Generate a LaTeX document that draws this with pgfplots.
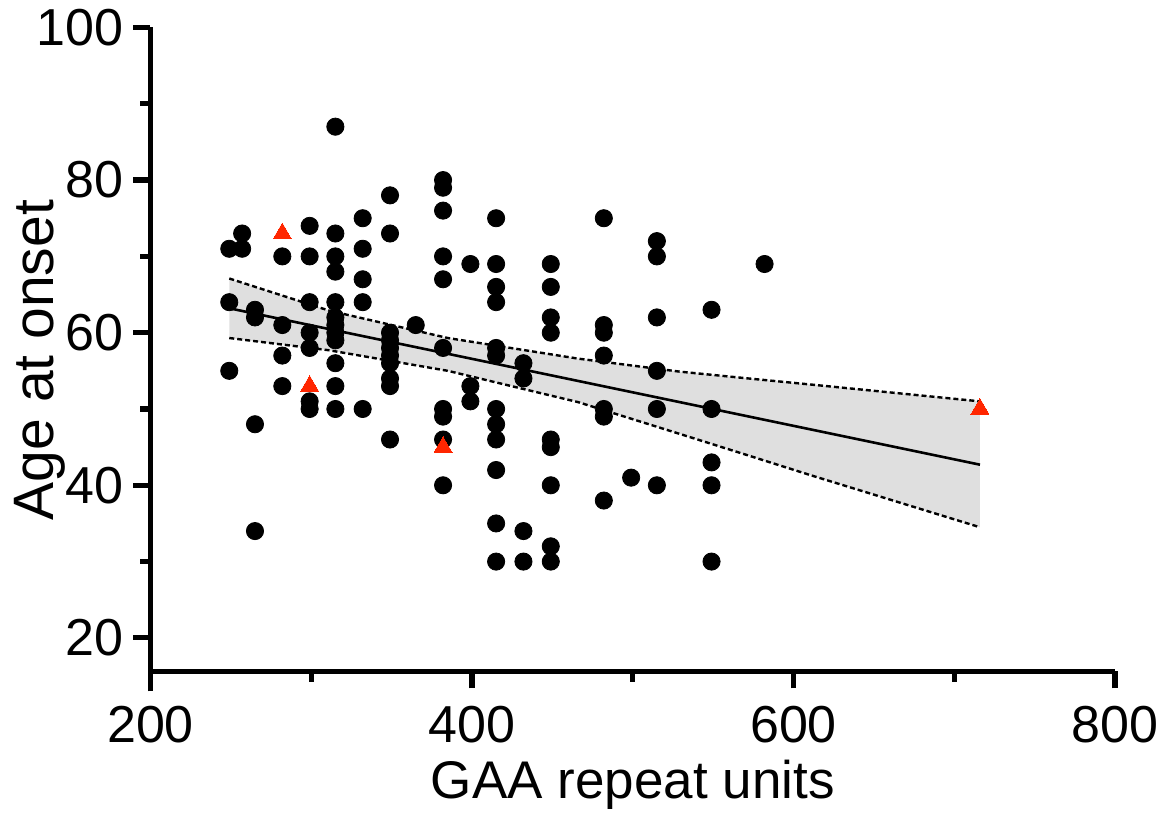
\documentclass[border=0pt]{standalone}
\usepackage{fontspec}
\setmainfont{Liberation Sans}
\usepackage{pgfplots}
\pgfplotsset{compat=1.18}
\definecolor{bandgray}{RGB}{223,223,223}
\definecolor{trired}{RGB}{255,38,0}
\begin{document}
\begin{tikzpicture}
\begin{axis}[
  scale only axis, width=482.25pt, height=331.9pt,
  xmin=200, xmax=800, ymin=13, ymax=100,
  axis x line*=bottom, axis y line*=left,
  axis line style={line width=2.7pt, -},
  axis x line shift=-10pt,
  xtick={200,400,600,800}, minor xtick={300,500,700},
  ytick={20,40,60,80,100}, minor ytick={30,50,70,90},
  tick align=outside, major tick length=8.5pt, minor tick length=5.2pt,
  tick style={line width=2.6pt, black},
  tick label style={font=\fontsize{26}{31}\selectfont},
  xticklabel style={yshift=-5.3pt},
  yticklabel style={xshift=-1.7pt},
  /pgf/number format/assume math mode=true,
  xlabel={GAA repeat units}, ylabel={Age at onset},
  every axis x label/.style={at={(axis description cs:0.5,-0.1404)}, anchor=center, font=\fontsize{26.5}{32}\selectfont},
  every axis y label/.style={at={(axis description cs:-0.1146,0.4991)}, rotate=90, anchor=center, font=\fontsize{28.5}{34}\selectfont},
  clip=false,
]
\coordinate (bbsw) at (rel axis cs:-0.15604,-0.19238);
\coordinate (bbne) at (rel axis cs:1.05080,1.04143);
% confidence band
\addplot[fill=bandgray, draw=none] coordinates {
 (249,67.1) (311,62.9) (385,59.3) (466,56.6) (529,54.9) (572,54.0) (611,53.2) (716,51.0)
 (716,34.5) (611,41.3) (572,43.9) (529,46.75) (466,50.9) (385,55.0) (311,57.7) (249,59.3)} -- cycle;
\addplot[black, line width=1.2pt, dash pattern=on 2.5pt off 1.5pt] coordinates {
 (249,67.1) (311,62.9) (385,59.3) (466,56.6) (529,54.9) (572,54.0) (611,53.2) (716,51.0)};
\addplot[black, line width=1.2pt, dash pattern=on 2.5pt off 1.5pt] coordinates {
 (249,59.3) (311,57.7) (385,55.0) (466,50.9) (529,46.75) (572,43.9) (611,41.3) (716,34.5)};
\addplot[black, line width=1.3pt] coordinates {(249,63.2) (716,42.7)};
% data points
\addplot[black, only marks, mark=*, mark size=4.3pt, mark options={fill=black, draw=black}] table {
x y
249 71
249 64
249 55
257 73
257 71
265 63
265 62
265 48
265 34
282 70
282 61
282 57
282 53
299 74
299 70
299 64
299 60
299 58
299 51
299 50
315 87
315 73
315 70
315 68
315 64
315 62
315 61
315 60
315 59
315 56
315 53
315 50
332 75
332 71
332 67
332 64
332 50
349 78
349 73
349 60
349 59
349 58
349 57
349 56
349 54
349 53
349 46
365 61
382 80
382 79
382 76
382 70
382 67
382 58
382 50
382 49
382 46
382 40
399 69
399 53
399 51
415 75
415 69
415 66
415 64
415 58
415 57
415 50
415 48
415 46
415 42
415 35
415 30
432 56
432 54
432 34
432 30
449 69
449 66
449 62
449 60
449 46
449 45
449 40
449 32
449 30
482 75
482 61
482 60
482 57
482 50
482 49
482 38
499 41
515 72
515 70
515 62
515 55
515 50
515 40
549 63
549 50
549 43
549 40
549 30
582 69
};
\addplot[trired, only marks, mark=triangle*, mark size=5.2pt, mark options={fill=trired, draw=trired, line width=0pt}] table {
x y
282 73
299 53
382 45
716 50
};
\end{axis}
\pgfresetboundingbox
\path (bbsw) rectangle (bbne);
\end{tikzpicture}
\end{document}
